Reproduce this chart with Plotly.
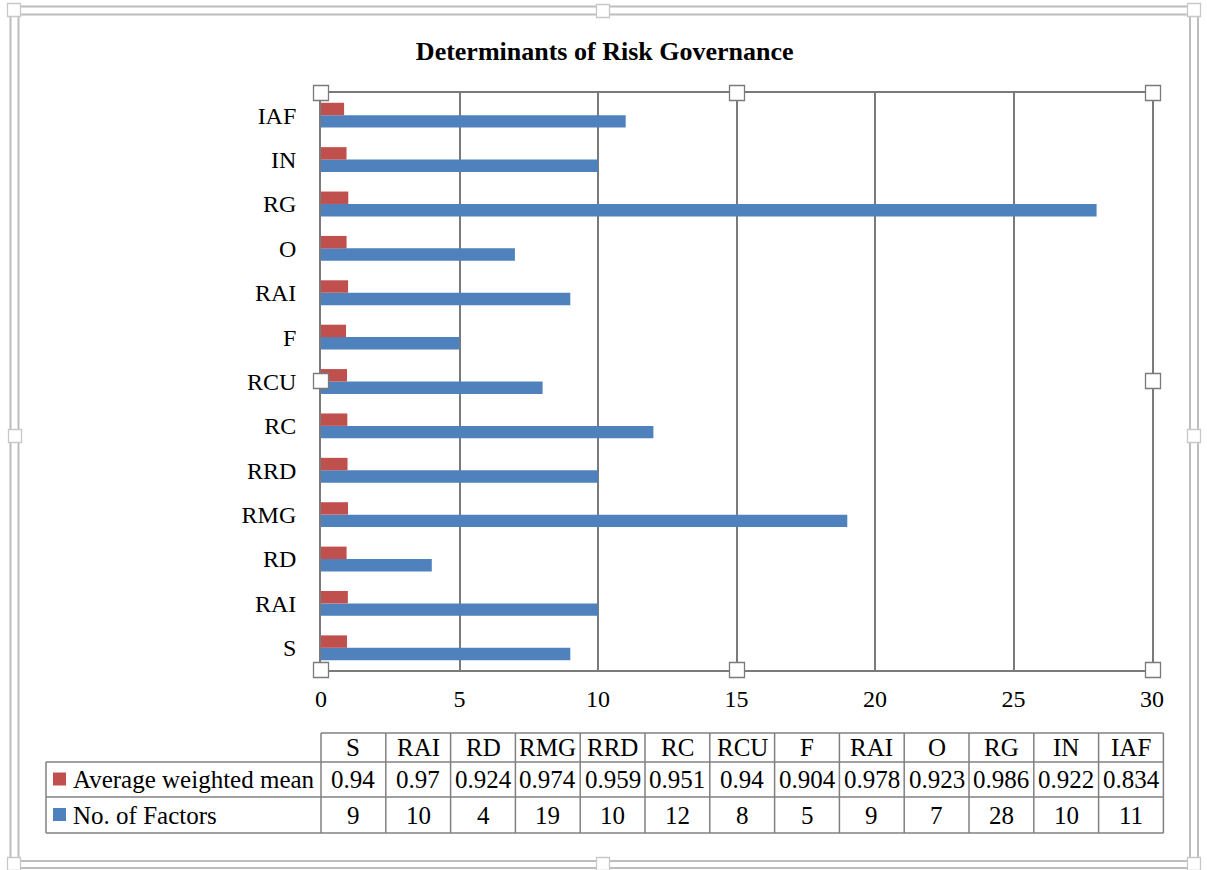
import plotly.graph_objects as go

# Data
categories = ["S", "RAI", "RD", "RMG", "RRD", "RC", "RCU", "F", "RAI", "O", "RG", "IN", "IAF"]
avg_weighted_mean = [0.94, 0.97, 0.924, 0.974, 0.959, 0.951, 0.94, 0.904, 0.978, 0.923, 0.986, 0.922, 0.834]
no_of_factors = [9, 10, 4, 19, 10, 12, 8, 5, 9, 7, 28, 10, 11]
series_names = ["Average weighted mean", "No. of Factors"]
x_ticks = [0, 5, 10, 15, 20, 25, 30]

RED = "#C0504D"
BLUE = "#4F81BD"
GRID = "#7A7A7A"
FONT = "Liberation Serif, Times New Roman, serif"

# Canvas geometry (pixels)
W, H = 1207, 870
L, R, T, B = 321, 55, 93, 200
PW, PH = W - L - R, H - T - B


def px(x):
    return (x - L) / PW


def py(y):
    return (H - B - y) / PH


pos = list(range(len(categories)))

fig = go.Figure()
fig.add_trace(go.Bar(y=pos, x=no_of_factors, orientation="h", name=series_names[1],
                     marker=dict(color=BLUE, line=dict(width=0))))
fig.add_trace(go.Bar(y=pos, x=avg_weighted_mean, orientation="h", name=series_names[0],
                     marker=dict(color=RED, line=dict(width=0))))

shapes = []
annotations = []

# Data table under the chart
col_w = 64.8
tab_left = L
lab_left = 46
row_edges = [733, 762, 797, 833]
ncol = len(categories)
tab_right = tab_left + col_w * ncol
line = dict(color="#808080", width=1.5)


def hline(x0, x1, y):
    shapes.append(dict(type="line", xref="paper", yref="paper", x0=px(x0), x1=px(x1),
                       y0=py(y), y1=py(y), line=line, layer="above"))


def vline(x, y0, y1):
    shapes.append(dict(type="line", xref="paper", yref="paper", x0=px(x), x1=px(x),
                       y0=py(y0), y1=py(y1), line=line, layer="above"))


hline(tab_left, tab_right, row_edges[0])
for y in row_edges[1:]:
    hline(lab_left, tab_right, y)
vline(lab_left, row_edges[1], row_edges[3])
for i in range(ncol + 1):
    vline(tab_left + col_w * i, row_edges[0], row_edges[3])

TAB_FONT = dict(family=FONT, size=25, color="black")
row_values = [[f"{v:g}" for v in avg_weighted_mean], [str(v) for v in no_of_factors]]
row_colors = [RED, BLUE]
for i, cat in enumerate(categories):
    cx = tab_left + col_w * (i + 0.5)
    annotations.append(dict(x=px(cx), y=py((row_edges[0] + row_edges[1]) / 2), xref="paper", yref="paper",
                            text=cat, showarrow=False, xanchor="center", yanchor="middle",
                            font=TAB_FONT))
    for r in range(2):
        annotations.append(dict(x=px(cx), y=py((row_edges[r + 1] + row_edges[r + 2]) / 2),
                                xref="paper", yref="paper", text=row_values[r][i], showarrow=False,
                                xanchor="center", yanchor="middle", font=TAB_FONT))

for r in range(2):
    cy = (row_edges[r + 1] + row_edges[r + 2]) / 2
    shapes.append(dict(type="rect", xref="paper", yref="paper", x0=px(53), x1=px(66),
                       y0=py(cy - 7), y1=py(cy + 6), fillcolor=row_colors[r], line=dict(width=0),
                       layer="above"))
    annotations.append(dict(x=px(71), y=py(cy), xref="paper", yref="paper", text=series_names[r],
                            showarrow=False, xanchor="left", yanchor="middle", font=TAB_FONT))

# Outer double frame
frame = [(10.5, 6.5, 1198, 868), (18.5, 14.5, 1190, 861)]
for x0, y0, x1, y1 in frame:
    shapes.append(dict(type="rect", xref="paper", yref="paper", x0=px(x0), x1=px(x1),
                       y0=py(y0), y1=py(y1), line=dict(color="#BDBDBD", width=2),
                       fillcolor="rgba(0,0,0,0)", layer="below"))


def handle(cx, cy, size, color):
    h = size / 2
    shapes.append(dict(type="rect", xref="paper", yref="paper", x0=px(cx - h), x1=px(cx + h),
                       y0=py(cy - h), y1=py(cy + h), fillcolor="white",
                       line=dict(color=color, width=1.3), layer="above"))


# Selection handles around the plot area and the frame
for cx, cy in [(321, 93), (737, 93), (1153, 93), (321, 381), (1153, 381),
               (321, 670), (737, 670), (1153, 670)]:
    handle(cx, cy, 15, "#7A7A7A")
for cx, cy in [(603, 11), (15, 436), (1194, 436), (603, 864), (14, 10), (1194, 10), (14, 864), (1194, 864)]:
    handle(cx, cy, 13, "#C8C8C8")

fig.update_layout(
    width=W, height=H,
    margin=dict(l=L, r=R, t=T, b=B, pad=0),
    paper_bgcolor="white", plot_bgcolor="white",
    barmode="group", bargap=0.44, bargroupgap=0,
    showlegend=False,
    title=dict(text="<b>Determinants of Risk Governance</b>", x=0.501, xref="container",
               xanchor="center", y=1 - 51 / H, yanchor="middle",
               font=dict(family=FONT, size=26, color="black")),
    font=dict(family=FONT, size=24, color="black"),
    xaxis=dict(range=[0, 30], tickvals=x_ticks, showgrid=True, gridcolor=GRID, gridwidth=1.8,
               showline=True, linecolor=GRID, linewidth=1.8, mirror=True, zeroline=False,
               ticks="", ticklabelstandoff=6, tickfont=dict(family=FONT, size=24, color="black")),
    yaxis=dict(range=[-0.5, len(categories) - 0.5], tickvals=pos, ticktext=categories,
               showgrid=False, showline=True, linecolor=GRID, linewidth=1.8, mirror=True,
               zeroline=False, ticks="", ticklabelstandoff=18,
               tickfont=dict(family=FONT, size=24, color="black")),
    shapes=shapes, annotations=annotations,
)

fig.write_html("out.html")
